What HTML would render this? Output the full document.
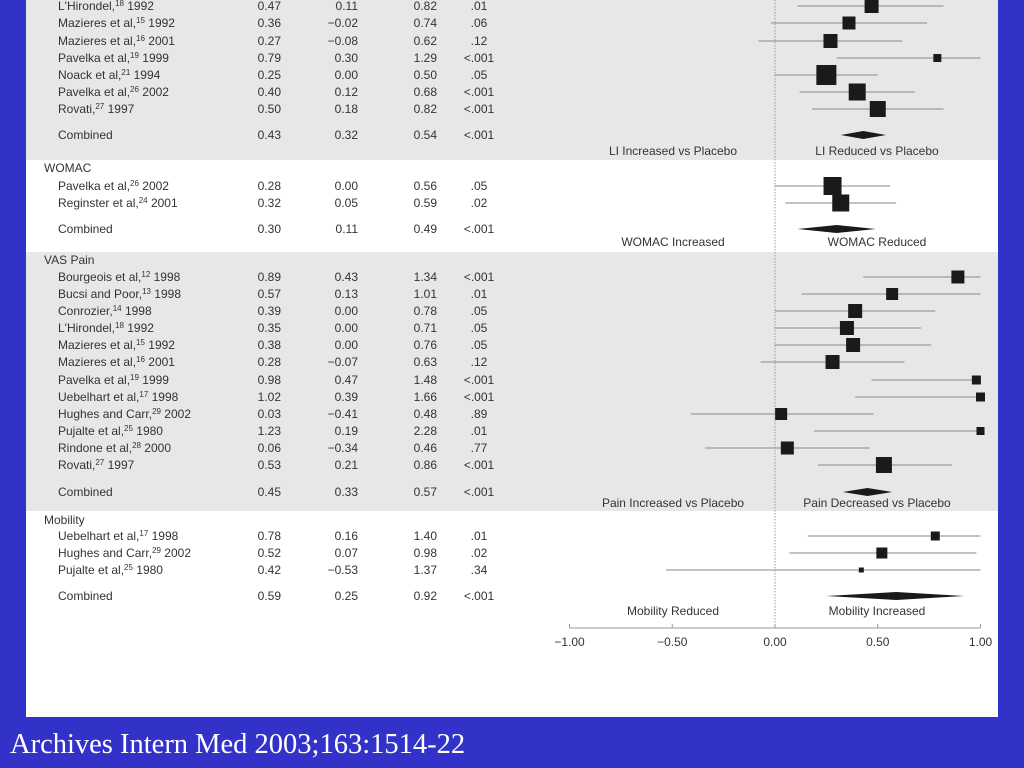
<!DOCTYPE html>
<html><head><meta charset="utf-8"><style>
body{margin:0;width:1024px;height:768px;background:#3232c8;overflow:hidden;position:relative;font-family:"Liberation Sans",sans-serif}
#panel{position:absolute;left:26px;top:0;width:972px;height:717px;background:#fff}
#cite{position:absolute;left:10px;top:729px;font-family:"Liberation Serif",serif;font-size:28.5px;color:#fff;line-height:1.1}
svg text{font-family:"Liberation Sans",sans-serif;font-size:12px;fill:#333}
</style></head><body>
<div id="panel"></div>
<svg id="chart" width="1024" height="768" style="position:absolute;left:0;top:0"></svg>
<div id="cite">Archives Intern Med 2003;163:1514-22</div>
<script>
const names=["L'Hirondel,|18| 1992","Mazieres et al,|15| 1992","Mazieres et al,|16| 2001","Pavelka et al,|19| 1999","Noack et al,|21| 1994","Pavelka et al,|26| 2002","Rovati,|27| 1997","Combined",
"Pavelka et al,|26| 2002","Reginster et al,|24| 2001","Combined",
"Bourgeois et al,|12| 1998","Bucsi and Poor,|13| 1998","Conrozier,|14| 1998","L'Hirondel,|18| 1992","Mazieres et al,|15| 1992","Mazieres et al,|16| 2001","Pavelka et al,|19| 1999","Uebelhart et al,|17| 1998","Hughes and Carr,|29| 2002","Pujalte et al,|25| 1980","Rindone et al,|28| 2000","Rovati,|27| 1997","Combined",
"Uebelhart et al,|17| 1998","Hughes and Carr,|29| 2002","Pujalte et al,|25| 1980","Combined"];
const est=[0.47,0.36,0.27,0.79,0.25,0.40,0.50,0.43, 0.28,0.32,0.30, 0.89,0.57,0.39,0.35,0.38,0.28,0.98,1.02,0.03,1.23,0.06,0.53,0.45, 0.78,0.52,0.42,0.59];
const lower=[0.11,-0.02,-0.08,0.30,0.00,0.12,0.18,0.32, 0.00,0.05,0.11, 0.43,0.13,0.00,0.00,0.00,-0.07,0.47,0.39,-0.41,0.19,-0.34,0.21,0.33, 0.16,0.07,-0.53,0.25];
const upper=[0.82,0.74,0.62,1.29,0.50,0.68,0.82,0.54, 0.56,0.59,0.49, 1.34,1.01,0.78,0.71,0.76,0.63,1.48,1.66,0.48,2.28,0.46,0.86,0.57, 1.40,0.98,1.37,0.92];
const pvals=[".01",".06",".12","<.001",".05","<.001","<.001","<.001", ".05",".02","<.001", "<.001",".01",".05",".05",".05",".12","<.001","<.001",".89",".01",".77","<.001","<.001", ".01",".02",".34","<.001"];
const weights=[14,13,14,8,20,17,16,0, 18,17,0, 13,12,14,14,14,14,9,9,12,8,13,16,0, 9,11,5,0];
const rowY=[6,23,41,58,75,92,109,135, 186,203,229, 277,294,311,328,345,362,380,397,414,431,448,465,492, 536,553,570,596];
const sections=[{t:"WOMAC",y:168},{t:"VAS Pain",y:260},{t:"Mobility",y:520}];
const bands=[[0,160,"#e6e7e9"],[160,252,"#ffffff"],[252,511,"#e6e7e9"],[511,717,"#ffffff"]];
const labels=[["LI Increased vs Placebo","LI Reduced vs Placebo",151],["WOMAC Increased","WOMAC Reduced",242],["Pain Increased vs Placebo","Pain Decreased vs Placebo",503],["Mobility Reduced","Mobility Increased",611]];
const ticks=[-1,-0.5,0,0.5,1];
const tickLabels=["\u22121.00","\u22120.50","0.00","0.50","1.00"];
const svg=document.getElementById('chart');const NS="http://www.w3.org/2000/svg";
const xs=v=>775+205.5*Math.max(-1,Math.min(1,v));
function mk(tag,a,parent){const e=document.createElementNS(NS,tag);for(const k in a)e.setAttribute(k,a[k]);(parent||svg).appendChild(e);return e;}
bands.forEach((b,i)=>{const r=mk('rect',{x:26,y:b[0],width:972,height:b[1]-b[0],fill:b[2]});

});
const ref=mk('line',{x1:775,y1:0,x2:775,y2:626,stroke:'#999','stroke-dasharray':'1.5,1.5'});


sections.forEach(s=>{const t=mk('text',{x:44,y:s.y+4});t.textContent=s.t;

});
function txt(x,y,s,anchor){const t=mk('text',{x:x,y:y+4,'text-anchor':anchor||'start'});t.textContent=s;return t;}
names.forEach((n,i)=>{const y=rowY[i];const parts=n.split('|');
const t=mk('text',{x:58,y:y+4});


const a=mk('tspan',{},t);a.textContent=parts[0];
if(parts.length>1){const s=mk('tspan',{'font-size':'8',dy:'-4'},t);s.textContent=parts[1];const c=mk('tspan',{dy:'4'},t);c.textContent=parts[2];}
const f=v=>(v<0?"\u2212":"")+Math.abs(v).toFixed(2);
const e1=txt(281,y,f(est[i]),'end');
const e2=txt(358,y,f(lower[i]),'end');
const e3=txt(437,y,f(upper[i]),'end');
const e4=txt(479,y,pvals[i],'middle');
if(weights[i]>0){
const l=mk('line',{x1:xs(lower[i]),x2:xs(upper[i]),y1:y,y2:y,stroke:'#888','stroke-width':1});


const w=weights[i];const r=mk('rect',{x:xs(est[i])-w/2,y:y-w/2,width:w,height:w,fill:'#1a1a1a'});


}else{
const p=mk('polygon',{points:`${xs(lower[i])},${y} ${xs(est[i])},${y-4} ${xs(upper[i])},${y} ${xs(est[i])},${y+4}`,fill:'#1a1a1a'});

}
});
labels.forEach(L=>{const a=txt(673,L[2],L[0],'middle');
const b=txt(877,L[2],L[1],'middle');});
const ax=mk('line',{x1:xs(-1),x2:xs(1),y1:628,y2:628,stroke:'#999'});


ticks.forEach((v,i)=>{mk('line',{x1:xs(v),x2:xs(v),y1:624,y2:628,stroke:'#999'});
const t=mk('text',{x:xs(v),y:646,'text-anchor':'middle','font-size':'10'});t.textContent=tickLabels[i];

});
</script>
</body></html>
